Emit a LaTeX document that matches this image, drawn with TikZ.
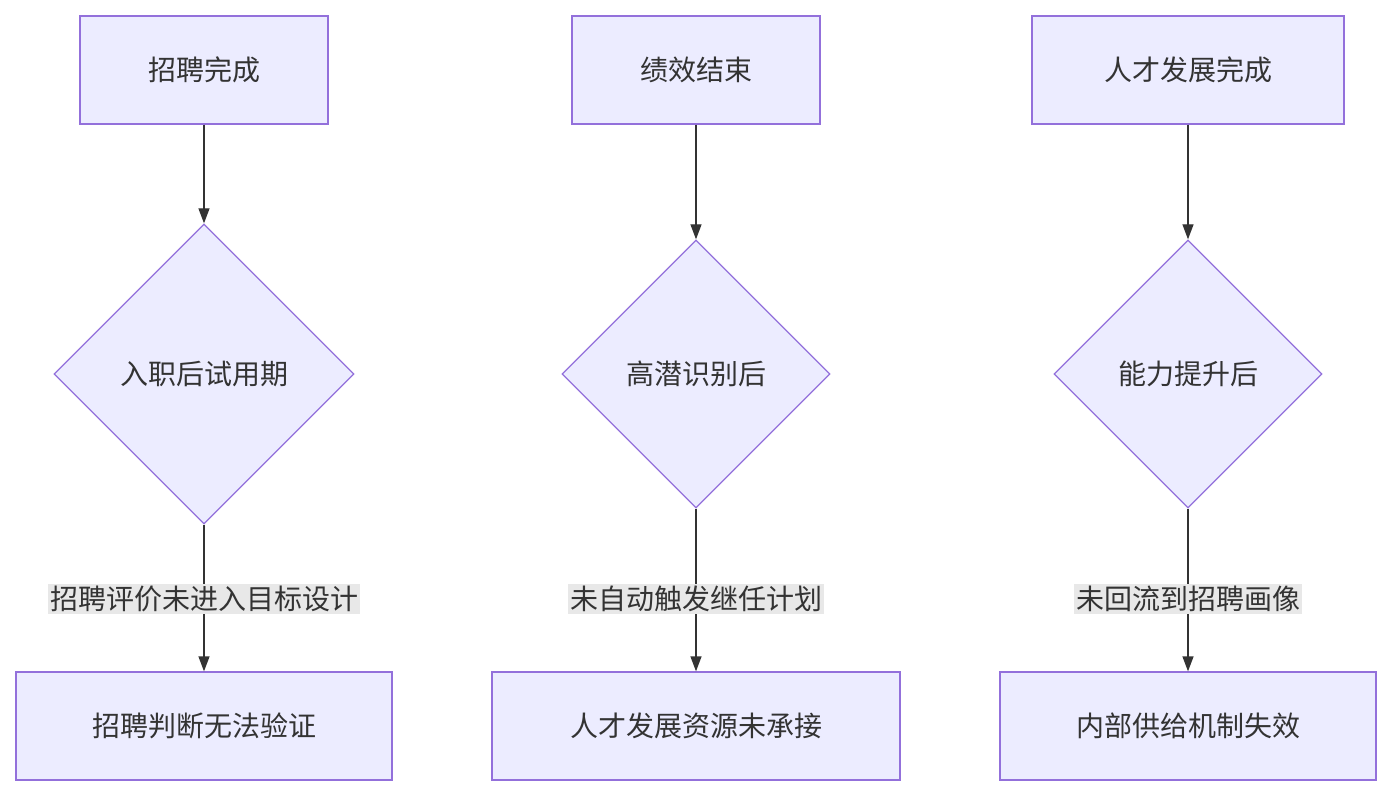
\documentclass[tikz,border=0pt]{standalone}
\usepackage{fontspec}
\setmainfont{Noto Sans CJK SC}
\usetikzlibrary{shapes.geometric,arrows.meta}
\definecolor{nf}{HTML}{ECECFF}
\definecolor{ns}{HTML}{9370DB}
\definecolor{ln}{HTML}{333333}
\definecolor{lb}{HTML}{E8E8E8}
\begin{document}
\begin{tikzpicture}[x=1pt,y=-1pt,
 box/.style={draw=ns,fill=nf,line width=1.3pt,inner sep=0,font=\fontsize{28}{32}\selectfont,text=ln},
 dia/.style={box,diamond,aspect=1},
 lab/.style={fill=lb,inner sep=2pt,font=\fontsize{28}{32}\selectfont,text=ln},
 arr/.style={draw=ln,line width=1.3pt,-{Triangle[length=15pt,width=11pt]}},
 seg/.style={draw=ln,line width=1.3pt}]
\useasboundingbox (0,0) rectangle (1392,796);
% column 1
\node[box,minimum width=248,minimum height=108] (a1) at (204,70) {招聘完成};
\node[dia,minimum width=300,minimum height=300] (d1) at (204,374) {入职后试用期};
\node[lab] (l1) at (204,599) {招聘评价未进入目标设计};
\node[box,minimum width=376,minimum height=108] (b1) at (204,726) {招聘判断无法验证};
% column 2
\node[box,minimum width=248,minimum height=108] (a2) at (696,70) {绩效结束};
\node[dia,minimum width=268,minimum height=268] (d2) at (696,374) {高潜识别后};
\node[lab] (l2) at (696,599) {未自动触发继任计划};
\node[box,minimum width=408,minimum height=108] (b2) at (696,726) {人才发展资源未承接};
% column 3
\node[box,minimum width=312,minimum height=108] (a3) at (1188,70) {人才发展完成};
\node[dia,minimum width=268,minimum height=268] (d3) at (1188,374) {能力提升后};
\node[lab] (l3) at (1188,599) {未回流到招聘画像};
\node[box,minimum width=376,minimum height=108] (b3) at (1188,726) {内部供给机制失效};
\foreach \i in {1,2,3}{
 \draw[arr] (a\i) -- (d\i);
 \draw[seg] (d\i) -- (l\i);
 \draw[arr] (l\i) -- (b\i);
}
\end{tikzpicture}
\end{document}
